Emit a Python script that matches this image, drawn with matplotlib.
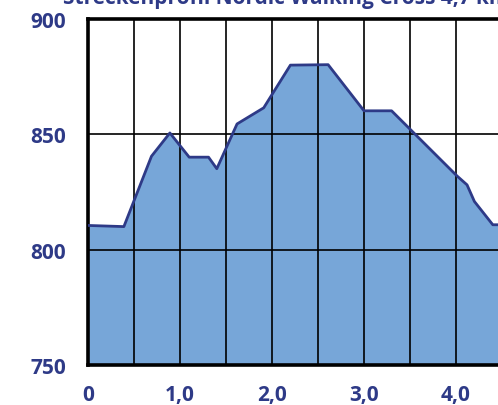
import numpy as np
import matplotlib
matplotlib.use("Agg")
import matplotlib.pyplot as plt

# Streckenprofil (km, m ue. NN)
distance_km = [0.0, 0.39, 0.69, 0.89, 1.10, 1.31, 1.40, 1.62, 1.91, 2.20,
               2.61, 3.00, 3.30, 4.01, 4.12, 4.20, 4.40, 4.50]
elevation_m = [810.5, 810.0, 840.5, 850.6, 840.1, 840.1, 835.1, 854.5, 861.5, 880.0,
               880.2, 860.2, 860.2, 832.0, 828.1, 820.9, 810.8, 810.8]

x_ticks = [0, 1, 2, 3, 4]
x_labels = ["0", "1,0", "2,0", "3,0", "4,0"]
y_ticks = [750, 800, 850, 900]
title = "Streckenprofil Nordic Walking Cross 4,7 km"

navy = "#2E3A87"
fill_blue = "#77A6D8"

plt.rcParams['font.family'] = ['Open Sans', 'DejaVu Sans']

W, H = 498, 406
fig = plt.figure(figsize=(W / 100, H / 100), dpi=100)
# axes runs past the right edge, the original picture is cropped there
ax = fig.add_axes([88 / W, 40 / H, 4.7 * 92 / W, 346 / H])

ax.fill_between(distance_km, elevation_m, 750, color=fill_blue, lw=0, zorder=1)
ax.plot(distance_km, elevation_m, color=navy, lw=2, zorder=3)

ax.set_xlim(0, 4.7)
ax.set_ylim(750, 900)

ax.set_xticks(x_ticks)
ax.set_xticklabels(x_labels)
ax.set_xticks(np.arange(0.5, 4.7, 1.0), minor=True)
ax.set_yticks(y_ticks)

ax.grid(True, which="both", color="black", lw=1.2, zorder=2)
ax.set_axisbelow(False)

ax.tick_params(which="both", length=0)
ax.tick_params(axis="y", pad=16)
ax.tick_params(axis="x", pad=14)
for lab in ax.get_xticklabels() + ax.get_yticklabels():
    lab.set_fontsize(15)
    lab.set_fontweight("bold")
    lab.set_color(navy)

for side in ["left", "top", "bottom"]:
    ax.spines[side].set_linewidth(2.6)
    ax.spines[side].set_color("black")
ax.spines["right"].set_visible(False)

# title is cut off at the top of the original picture
fig.text(63 / W, 1 - 4 / H, title, ha="left", va="baseline",
         fontsize=15, fontweight="bold", color=navy)

fig.savefig("out.png", dpi=100)
